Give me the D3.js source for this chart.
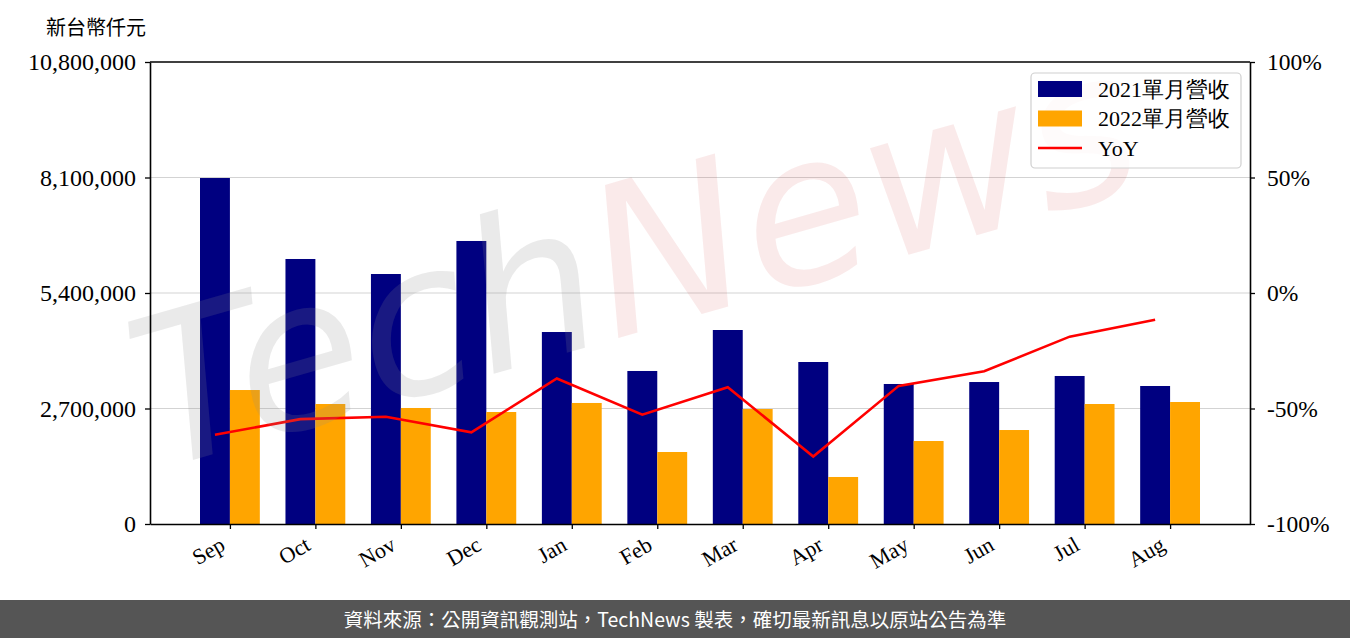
<!DOCTYPE html>
<html><head><meta charset="utf-8">
<script src="https://cdn.jsdelivr.net/npm/d3@7"></script>
<style>body{margin:0;background:#fff;}svg{display:block;}</style>
</head><body>
<svg id="c" width="1350" height="638"></svg>
<script>
const months = ["Sep","Oct","Nov","Dec","Jan","Feb","Mar","Apr","May","Jun","Jul","Aug"];
const rev2021 = [8088000,6195000,5844000,6616000,4488000,3577000,4535000,3787000,3273000,3319000,3460000,3226000];
const rev2022 = [3132000,2805000,2712000,2618000,2829000,1683000,2688000,1099000,1940000,2197000,2805000,2852000];
const yoy = [-61.4,-54.6,-53.6,-60.3,-37.0,-52.7,-40.8,-70.8,-40.2,-33.9,-18.9,-11.6];
const leftTicks = [0,2700000,5400000,8100000,10800000];
const rightTicks = [-100,-50,0,50,100];
const seriesNames = ["2021單月營收","2022單月營收","YoY"];
const colors = ["#000080","#ffa500","#ff0000"];

const svg = d3.select("#c");
const L=150,R=1250,T=62,B=524;
const serif = "'Liberation Serif','DejaVu Serif',serif";
const w = 0.35;
const x = d3.scaleLinear().domain([-0.76, 12.11]).range([L,R]);
const y = d3.scaleLinear().domain([0,10800000]).range([B,T]);
const y2 = d3.scaleLinear().domain([-100,100]).range([B,T]);

// grid
svg.append("g").selectAll("line").data(leftTicks.slice(1,4)).join("line")
  .attr("x1",L).attr("x2",R).attr("y1",d=>y(d)).attr("y2",d=>y(d))
  .attr("stroke","#d3d3d3").attr("stroke-width",1.2);

// bars
svg.append("g").selectAll("rect").data(rev2021).join("rect")
  .attr("x",(d,i)=>x(i-w/2)).attr("width",x(w)-x(0))
  .attr("y",d=>y(d)).attr("height",d=>B-y(d)).attr("fill",colors[0]);
svg.append("g").selectAll("rect").data(rev2022).join("rect")
  .attr("x",(d,i)=>x(i+w/2)).attr("width",x(w)-x(0))
  .attr("y",d=>y(d)).attr("height",d=>B-y(d)).attr("fill",colors[1]);

// line
svg.append("path").datum(yoy)
  .attr("d",d3.line().x((d,i)=>x(i)).y(d=>y2(d)))
  .attr("fill","none").attr("stroke",colors[2]).attr("stroke-width",2.6);

// watermark
const wm = svg.append("text").attr("transform","translate(158,470) rotate(-16)")
  .style("font-family","'DejaVu Sans',sans-serif").style("font-style","italic").style("font-size","207px");
wm.append("tspan").attr("fill","#888").attr("fill-opacity",0.18).text("Tech");
wm.append("tspan").attr("fill","#d04040").attr("fill-opacity",0.11).text("News");

// axes
const ax = svg.append("g").attr("transform",`translate(0,${B})`)
  .call(d3.axisBottom(x).tickValues(d3.range(months.length).map(i=>i+w/2)).tickFormat(v=>months[Math.round(v-w/2)]).tickSize(5).tickSizeOuter(0));
ax.selectAll("text").style("font-family",serif).style("font-size","22px").attr("fill","#000")
  .attr("text-anchor","end").attr("x",0).attr("y",0).attr("dy",0).attr("transform","translate(-4,25) rotate(-30)");
const ay = svg.append("g").attr("transform",`translate(${L},0)`)
  .call(d3.axisLeft(y).tickValues(leftTicks).tickFormat(d3.format(",")).tickSize(5).tickPadding(9).tickSizeOuter(0));
ay.selectAll("text").style("font-family",serif).style("font-size","24px").attr("fill","#000");
const ay2 = svg.append("g").attr("transform",`translate(${R},0)`)
  .call(d3.axisRight(y2).tickValues(rightTicks).tickFormat(d=>d+"%").tickSize(5).tickPadding(12).tickSizeOuter(0));
ay2.selectAll("text").style("font-family",serif).style("font-size","23.5px").attr("fill","#000");
[ax,ay,ay2].forEach(g=>{g.select(".domain").attr("stroke","#000").attr("stroke-width",1.6);g.selectAll(".tick line").attr("stroke","#000").attr("stroke-width",1.3);});
svg.append("line").attr("x1",L).attr("x2",R).attr("y1",T).attr("y2",T).attr("stroke","#000").attr("stroke-width",1.6);

// unit label
svg.append("text").attr("x",96).attr("y",35).attr("text-anchor","middle")
  .style("font-family","'Noto Sans CJK TC',sans-serif").style("font-size","20px").text("新台幣仟元");

// legend
const lg = svg.append("g");
lg.append("rect").attr("x",1031).attr("y",73).attr("width",210).attr("height",95).attr("rx",4)
  .attr("fill","#fff").attr("fill-opacity",0.8).attr("stroke","#d0d0d0").attr("stroke-width",1.2);
seriesNames.forEach((n,i)=>{
  const cy = 89+i*29.5;
  if(i<2) lg.append("rect").attr("x",1038).attr("y",cy-8).attr("width",44).attr("height",16).attr("fill",colors[i]);
  else lg.append("line").attr("x1",1038).attr("x2",1082).attr("y1",cy).attr("y2",cy).attr("stroke",colors[i]).attr("stroke-width",2.6);
  lg.append("text").attr("x",1098).attr("y",cy+7.5).style("font-family",serif).style("font-size","22px").text(n);
});

// footer
svg.append("rect").attr("x",0).attr("y",600).attr("width",1350).attr("height",38).attr("fill","#555555");
svg.append("text").attr("x",675).attr("y",627).attr("text-anchor","middle").attr("fill","#fff")
  .style("font-family","'Noto Sans CJK TC',sans-serif").style("font-size","19.5px")
  .text("資料來源：公開資訊觀測站，TechNews 製表，確切最新訊息以原站公告為準");
</script>
</body></html>
